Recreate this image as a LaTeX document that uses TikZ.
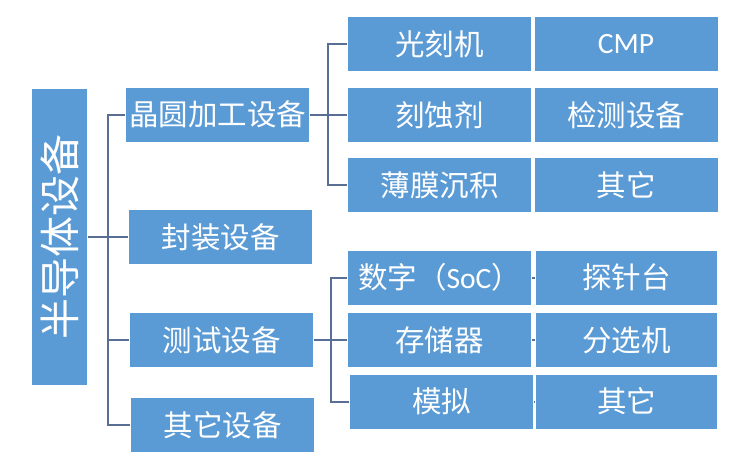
\documentclass[tikz,border=0pt]{standalone}
\usepackage{fontspec}
\setmainfont{Noto Sans CJK SC}
\newfontfamily\latfont{Carlito}
\usetikzlibrary{positioning}
\definecolor{boxblue}{RGB}{91,155,213}
\definecolor{lineblue}{RGB}{88,110,148}
\newcommand{\lat}[1]{{\latfont #1}}

\begin{document}
\begin{tikzpicture}[
		x=1pt, y=-1pt,
		line width=2pt,
		draw=lineblue,
		box/.style={fill=boxblue, text=white, inner sep=0pt,
			minimum height=54pt, font=\fontsize{29.5}{32}\selectfont},
		wide/.style={box, minimum width=183pt},
	]
		\useasboundingbox (0, 0) rectangle (747, 467);

		% equipment boxes
		\node [box, minimum width=55pt, minimum height=296pt] (root) at (59.5, 237) {};
		\node [rotate=90, text=white, font=\fontsize{41}{44}\selectfont] (roottext) at (root.center) {半导体设备};
		\begin{scope}[every node/.style={wide}]
			\node (wafer) at (217.5, 114.5) {晶圆加工设备};
			\node (pack)  at (220.5, 237)   {封装设备};
			\node (test)  at (221.5, 340)   {测试设备};
			\node (other) at (222.5, 425)   {其它设备};

			\node (litho)  at (439.5, 44)  {光刻机};
			\node (etch)   at (439.5, 115) {刻蚀剂};
			\node (film)   at (439.5, 185) {薄膜沉积};
			\node (cmp)    at (626, 44)    {\lat{CMP}};
			\node (inspect) at (626, 115)  {检测设备};
			\node (wother) at (626, 185)   {其它};

			\node (digital) at (439.5, 277.5) {数字（\lat{SoC}）};
			\node (memory)  at (439.5, 340)   {存储器};
			\node (analog)  at (441.5, 401.5) {模拟};
			\node [minimum width=181pt] (probe)  at (626.5, 277.5) {探针台};
			\node [minimum width=181pt] (sorter) at (626.5, 340)   {分选机};
			\node [minimum width=181pt] (tother) at (626.5, 401.5) {其它};
		\end{scope}

		% tree connectors
		\coordinate (rootbus) at (108, 237);
		\coordinate (waferbus) at (328, 114.5);
		\coordinate (testbus) at (331, 340);

		\foreach \child in {wafer, pack, test, other}
			\draw [lineblue] (root.east) -- (rootbus) |- (\child.west);
		\foreach \child in {litho, etch, film}
			\draw [lineblue] (wafer.east) -- (waferbus) |- (\child.west);
		\foreach \child in {digital, memory, analog}
			\draw [lineblue] (test.east) -- (testbus) |- (\child.west);
		\draw [lineblue] (digital) -- (probe);
		\draw [lineblue] (memory) -- (sorter);
		\draw [lineblue] (analog) -- (tother);
	\end{tikzpicture}
\end{document}
